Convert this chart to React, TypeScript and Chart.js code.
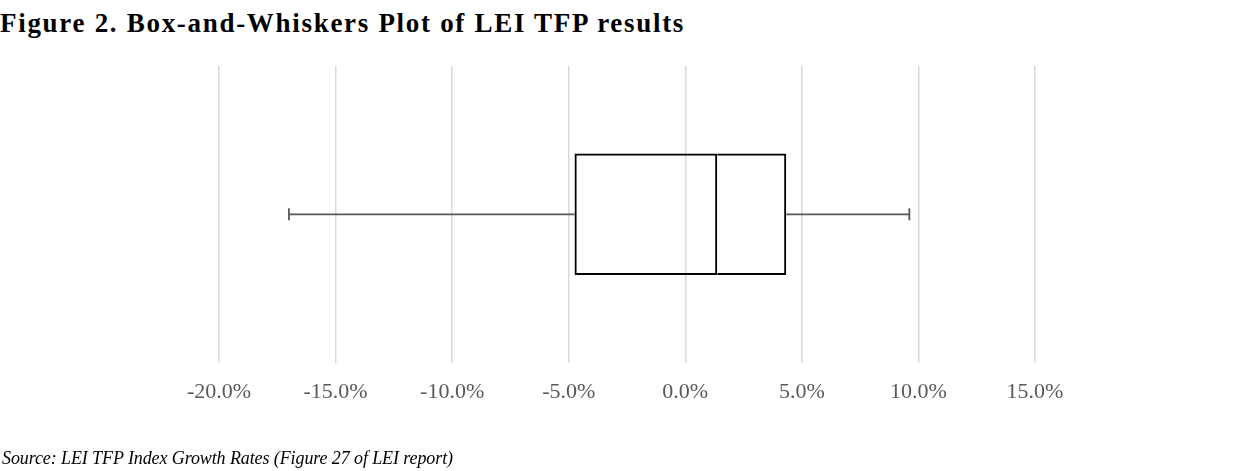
import React, { useEffect, useRef } from "react";
import { Chart, registerables } from "chart.js";

Chart.register(...registerables);

const categories = ["LEI TFP"];
const whiskerMin = [-17.0];
const q1 = [-4.75];
const median = [1.37];
const q3 = [4.33];
const whiskerMax = [9.61];
const xMin = -20;
const xMax = 15;
const xStep = 5;

const TITLE = "Figure 2. Box-and-Whiskers Plot of LEI TFP results";
const SOURCE = "Source: LEI TFP Index Growth Rates (Figure 27 of LEI report)";

export default function App() {
  const ref = useRef<HTMLCanvasElement | null>(null);

  useEffect(() => {
    document.body.style.margin = "0";
    const canvas = ref.current;
    if (!canvas) return;
    const boxStyle = {
      type: "bar" as const,
      backgroundColor: "rgba(0,0,0,0)",
      borderColor: "#000000",
      borderWidth: 2,
      grouped: false,
      categoryPercentage: 0.41,
      barPercentage: 1.0,
      order: 1,
    };
    const whiskerStyle = {
      type: "line" as const,
      borderColor: "#595959",
      borderWidth: 1.8,
      pointStyle: "line" as const,
      rotation: 90,
      pointBorderColor: "#595959",
      pointBorderWidth: 1.8,
      pointBackgroundColor: "#595959",
      fill: false,
      order: 2,
    };
    const chart = new Chart(canvas, {
      type: "bar",
      data: {
        labels: categories,
        datasets: [
          {
            ...boxStyle,
            label: "Lower box",
            borderSkipped: false,
            data: categories.map((_, i) => [q1[i], median[i]]),
          },
          {
            ...boxStyle,
            label: "Upper box",
            borderSkipped: "start",
            data: categories.map((_, i) => [median[i], q3[i]]),
          },
          {
            ...whiskerStyle,
            label: "Lower whisker",
            data: [
              { x: whiskerMin[0], y: categories[0] },
              { x: q1[0], y: categories[0] },
            ],
            pointRadius: [6, 0],
          },
          {
            ...whiskerStyle,
            label: "Upper whisker",
            data: [
              { x: q3[0], y: categories[0] },
              { x: whiskerMax[0], y: categories[0] },
            ],
            pointRadius: [0, 6],
          },
        ] as any,
      },
      options: {
        indexAxis: "y",
        responsive: false,
        animation: false,
        layout: { padding: { left: 219, right: 221, top: 66, bottom: 50 } },
        plugins: {
          legend: { display: false },
          tooltip: { enabled: false },
          title: { display: false },
        },
        scales: {
          x: {
            type: "linear",
            min: xMin,
            max: xMax,
            border: { display: false },
            grid: { color: "#d9d9d9", lineWidth: 1.5, drawTicks: false },
            ticks: {
              stepSize: xStep,
              padding: 16,
              color: "#595959",
              font: { family: "Liberation Serif", size: 22 },
              callback: (v: any) => Number(v).toFixed(1) + "%",
            },
          },
          y: {
            type: "category",
            display: false,
          },
        },
      } as any,
    });
    return () => chart.destroy();
  }, []);

  return (
    <div style={{ position: "absolute", left: 0, top: 0, width: 1256, height: 471, background: "#fff" }}>
      <div
        style={{
          position: "absolute",
          left: 0,
          top: 10,
          fontFamily: "Liberation Serif",
          fontWeight: "bold",
          fontSize: 27,
          lineHeight: "27px",
          letterSpacing: "1.7px",
          color: "#000",
          whiteSpace: "nowrap",
        }}
      >
        {TITLE}
      </div>
      <canvas ref={ref} width={1256} height={471} style={{ position: "absolute", left: 0, top: 0 }} />
      <div
        style={{
          position: "absolute",
          left: 2,
          top: 449,
          fontFamily: "Liberation Serif",
          fontStyle: "italic",
          fontSize: 18,
          lineHeight: "18px",
          letterSpacing: "-0.1px",
          color: "#000",
          whiteSpace: "nowrap",
        }}
      >
        {SOURCE}
      </div>
    </div>
  );
}
